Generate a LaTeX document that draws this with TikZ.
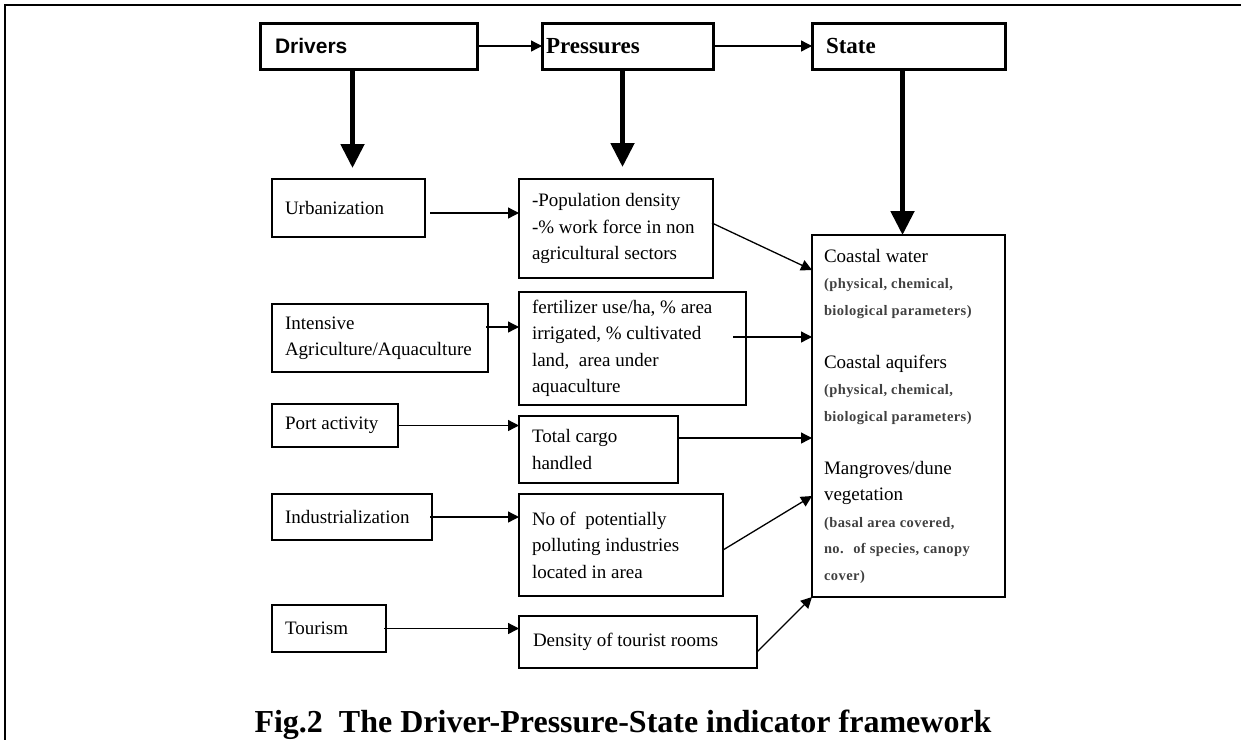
\documentclass[tikz,border=0pt]{standalone}
\usepackage{fontspec}
\setmainfont{Liberation Serif}
\newfontfamily\drvfont{Liberation Sans}
\newfontfamily\parmfont[LetterSpace=3]{Liberation Serif}
\usetikzlibrary{calc}
\usetikzlibrary{arrows.meta}

\hyphenpenalty=10000
\exhyphenpenalty=10000

\newcommand{\parm}[1]{{\parmfont\bfseries\color{black!75}\fontsize{14.5}{26.5}\selectfont #1}}

\tikzset{
  headbox/.style={draw, line width=3pt, anchor=north west,
    minimum height=46pt, inner ysep=0pt, outer sep=0pt, align=flush left},
  itembox/.style={draw, line width=1.3pt, anchor=north west,
    inner xsep=13pt, inner ysep=0pt, outer sep=0pt, align=flush left,
    font=\fontsize{19}{26.5}\selectfont},
  thinarr/.style={line width=1.3pt, -{Triangle[length=11pt,width=11pt]}},
  bigarr/.style={line width=5pt, -{Triangle[length=24pt,width=23pt]}}
}

\begin{document}
\begin{tikzpicture}[x=1pt, y=-1pt]

  \useasboundingbox (0,0) rectangle (1241,740);
  \draw [line width=2.3pt] (1241,5) -- (5,5) -- (5,740);

  % top row
  \node [headbox, minimum width=217pt, inner xsep=15pt, text width=187pt,
         font=\drvfont\bfseries\fontsize{21}{24}\selectfont]
        (drivers) at (260,23) {Drivers};
  \node [headbox, minimum width=171pt, inner xsep=4pt, text width=163pt,
         font=\bfseries\fontsize{23}{26}\selectfont]
        (pressures) at (542,23) {Pressures};
  \node [headbox, minimum width=193pt, inner xsep=14pt, text width=165pt,
         font=\bfseries\fontsize{23}{26}\selectfont]
        (state) at (812,23) {State};

  % drivers
  \node [itembox, minimum width=153pt, minimum height=58pt, text width=127pt]
        (urban) at (272,179) {Urbanization};
  \node [itembox, minimum width=216pt, minimum height=68pt, text width=190pt]
        (inten) at (272,304) {Intensive\\\mbox{Agriculture/Aquaculture}};
  \node [itembox, minimum width=126pt, minimum height=43pt, text width=100pt]
        (port) at (272,404) {Port activity};
  \node [itembox, minimum width=160pt, minimum height=46pt, text width=134pt]
        (indus) at (272,494) {Industrialization};
  \node [itembox, minimum width=114pt, minimum height=47pt, text width=88pt]
        (tour) at (272,605) {Tourism};

  % pressures
  \node [itembox, minimum width=194pt, minimum height=99pt, text width=168pt]
        (pop) at (519,179)
        {-Population density\\\mbox{-\% work force in non}\\agricultural sectors};
  \node [itembox, minimum width=227pt, minimum height=113pt, text width=201pt]
        (fert) at (519,292)
        {fertilizer use/ha, \% area\\irrigated, \% cultivated\\land,~ area under\\aquaculture};
  \node [itembox, minimum width=159pt, minimum height=67pt, text width=133pt]
        (cargo) at (519,416) {Total cargo\\handled};
  \node [itembox, minimum width=204pt, minimum height=102pt, text width=178pt]
        (poll) at (519,494)
        {No of~ potentially\\polluting industries\\located in area};
  \node [itembox, minimum width=238pt, minimum height=52pt, text width=210pt,
         inner xsep=14pt]
        (dens) at (519,616) {Density of tourist rooms};

  % state
  \node [itembox, minimum width=193pt, minimum height=362pt, text width=169pt,
         inner xsep=12pt]
        (coastal) at (812,235)
        {Coastal water\\
         \parm{(physical, chemical,}\\
         \parm{biological parameters)}\\
         \mbox{}\\
         Coastal aquifers\\
         \parm{(physical, chemical,}\\
         \parm{biological parameters)}\\
         \mbox{}\\
         Mangroves/dune\\
         vegetation\\
         \parm{(basal area covered,}\\
         \parm{no.~ of species, canopy}\\
         \parm{cover)}};

  % top arrows
  \draw [thinarr] (drivers.east) -- (pressures.west);
  \draw [thinarr] (pressures.east) -- (state.west);

  \draw [bigarr] ($(drivers.south)+(-16,0)$) -- ($(drivers.south |- urban.north)+(-16,-11)$);
  \draw [bigarr] ($(pressures.south)+(-5,0)$) -- ($(pressures.south |- pop.north)+(-5,-12)$);
  \draw [bigarr] ($(state.south)+(-6,0)$) -- ($(state.south |- coastal.north)+(-6,0)$);

  % drivers to pressures
  \draw [thinarr] ($(urban.east)+(5,5)$) -- ($(urban.east -| pop.west)+(0,5)$);
  \draw [thinarr] ($(inten.east)+(-2,-11)$) -- ($(inten.east -| fert.west)+(0,-11)$);
  \draw [thinarr] (port.east) -- (port.east -| cargo.west);
  \draw [thinarr] ($(indus.east)+(-2,0)$) -- (indus.east -| poll.west);
  \draw [thinarr] ($(tour.east)+(-2,0)$) -- (tour.east -| dens.west);

  % pressures to state
  \draw [thinarr] ($(pop.east)+(-1,-5.5)$) -- ($(coastal.north west)+(0,35)$);
  \draw [thinarr] ($(fert.east)+(-13,-11.5)$) -- ($(fert.east -| coastal.west)+(0,-11.5)$);
  \draw [thinarr] ($(cargo.east)+(0,-11.5)$) -- ($(cargo.east -| coastal.west)+(0,-11.5)$);
  \draw [thinarr] ($(poll.east)+(0,5)$) -- ($(coastal.north west)+(0,261)$);
  \draw [thinarr] ($(dens.east)+(0,10)$) -- (coastal.south west);

  \node [anchor=base, font=\bfseries\fontsize{32}{36}\selectfont]
        (caption) at (623,732) {Fig.2~ The Driver-Pressure-State indicator framework};

\end{tikzpicture}
\end{document}
